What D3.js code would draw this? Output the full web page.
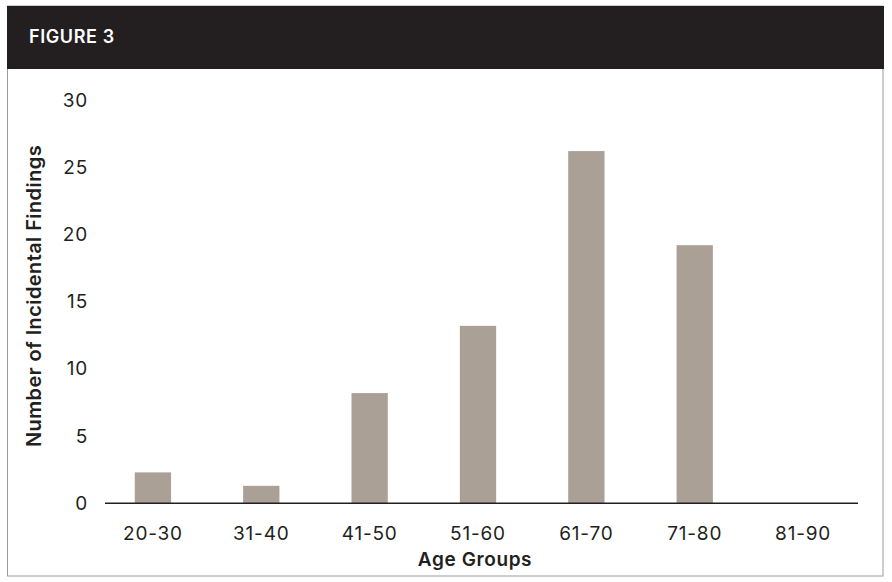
<!DOCTYPE html>
<html>
<head>
<meta charset="utf-8">
<script src="https://cdn.jsdelivr.net/npm/d3@7"></script>
<style>
	body { margin: 0; background: #fff; }
	svg { display: block; font-family: "Inter", "Open Sans", sans-serif; }
</style>
</head>
<body>
<div id="chart"></div>
<script>
// data
var ageGroups = ["20-30", "31-40", "41-50", "51-60", "61-70", "71-80", "81-90"];
var findings = [2.3, 1.3, 8.2, 13.2, 26.2, 19.2, 0];
var yTicks = [0, 5, 10, 15, 20, 25, 30];

var width = 892, height = 582;
var ink = "#231f20";

var svg = d3.select("#chart").append("svg")
	.attr("width", width)
	.attr("height", height);

// frame and header
svg.append("rect")
	.attr("x", 7.5).attr("y", 6)
	.attr("width", 875.5).attr("height", 570)
	.attr("fill", "none")
	.attr("stroke", "#9a9a9a")
	.attr("stroke-width", 1);

svg.append("rect")
	.attr("x", 7).attr("y", 6)
	.attr("width", 877).attr("height", 63)
	.attr("fill", ink);

svg.append("text")
	.attr("x", 29).attr("y", 43)
	.attr("fill", "#fff")
	.attr("font-size", "18px")
	.attr("font-weight", 600)
	.attr("letter-spacing", "0.6px")
	.text("FIGURE 3");

// scales
var x = d3.scaleBand().domain(ageGroups).range([99, 857]).paddingInner(0.665).paddingOuter(0.33);
var y = d3.scaleLinear().domain([0, 30]).range([503.3, 100]);

// bars
svg.append("g").selectAll("rect")
	.data(findings)
	.enter().append("rect")
	.attr("x", function(d, i) { return x(ageGroups[i]); })
	.attr("y", function(d) { return y(d); })
	.attr("width", x.bandwidth())
	.attr("height", function(d) { return y(0) - y(d); })
	.attr("fill", "#aaa096");

// baseline
svg.append("line")
	.attr("x1", 105).attr("x2", 858)
	.attr("y1", y(0)).attr("y2", y(0))
	.attr("stroke", ink)
	.attr("stroke-width", 1.5);

// y axis labels
svg.append("g")
	.attr("transform", "translate(88,0)")
	.call(d3.axisLeft(y).tickValues(yTicks).tickSize(0).tickPadding(0))
	.call(function(g) { g.select(".domain").remove(); })
	.selectAll("text")
	.attr("fill", ink)
	.attr("font-size", "19px")
	.attr("letter-spacing", "0.8px")
	.attr("font-family", "Inter, 'Open Sans', sans-serif");

// x axis labels
svg.append("g")
	.attr("transform", "translate(0," + 526 + ")")
	.call(d3.axisBottom(x).tickSize(0).tickPadding(0))
	.call(function(g) { g.select(".domain").remove(); })
	.selectAll("text")
	.attr("fill", ink)
	.attr("font-size", "19px")
	.attr("letter-spacing", "0.8px")
	.attr("font-family", "Inter, 'Open Sans', sans-serif");

// axis titles
svg.append("text")
	.attr("x", 475).attr("y", 566)
	.attr("text-anchor", "middle")
	.attr("fill", ink)
	.attr("font-size", "19px")
	.attr("font-weight", 600)
	.attr("letter-spacing", "0.6px")
	.text("Age Groups");

svg.append("text")
	.attr("transform", "translate(41,296) rotate(-90)")
	.attr("text-anchor", "middle")
	.attr("fill", ink)
	.attr("font-size", "20px")
	.attr("font-weight", 600)
	.attr("letter-spacing", "0.4px")
	.text("Number of Incidental Findings");
</script>
</body>
</html>
